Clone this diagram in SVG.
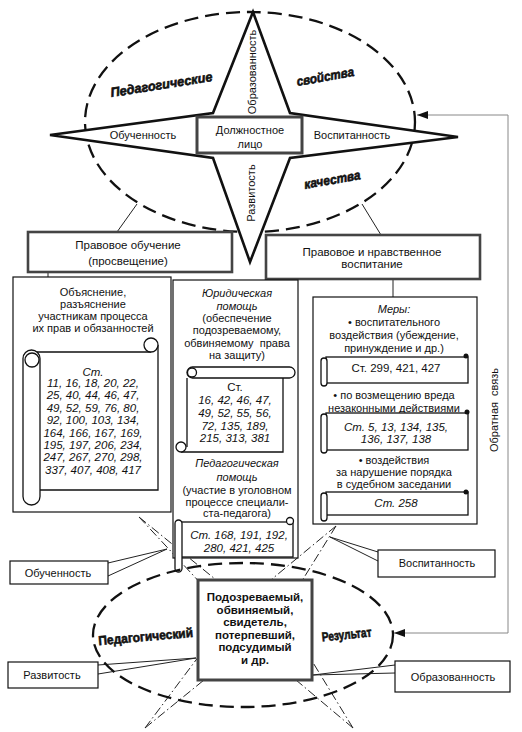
<svg xmlns="http://www.w3.org/2000/svg" width="522" height="732" viewBox="0 0 522 732">
<style>
text{font-family:"Liberation Sans",Arial,sans-serif;font-size:11px;fill:#111;text-anchor:middle;white-space:pre}
.i{font-style:italic}
.b{font-weight:bold;font-size:11.5px}
.bi{font-weight:bold;font-style:italic;font-size:13px;stroke:#111;stroke-width:0.6}
.bb{font-weight:bold;font-size:13px;stroke:#111;stroke-width:0.6}
.n{font-size:11.5px;font-style:italic}
.h{font-size:11.5px}
.box{fill:#fff;stroke:#111;stroke-width:1.2}
.hbox{fill:#fff;stroke:#444;stroke-width:2.6}
.sc{fill:#fff;stroke:#111;stroke-width:1.3}
.ln{fill:none;stroke:#222;stroke-width:1}
.dd{fill:none;stroke:#222;stroke-width:1;stroke-dasharray:9 3 1.5 3}
.fb{fill:none;stroke:#888;stroke-width:1}
.ell{fill:none;stroke:#111;stroke-width:2.3;stroke-dasharray:14 7}
</style>
<defs>
<marker id="ar" markerUnits="userSpaceOnUse" markerWidth="12" markerHeight="8" refX="11" refY="4" orient="auto"><path d="M0,0 L11,4 L0,8 z" fill="#111"/></marker>
</defs>
<rect width="522" height="732" fill="#fff"/>

<g id="qualities-ellipse">
<ellipse class="ell" cx="250" cy="122" rx="165" ry="110"/>
</g>

<g id="star">
<polygon points="253,12 290,113 458,137 290,158 250,262 213,158 50,135 213,113" fill="#fff" stroke="#111" stroke-width="2.6" stroke-linejoin="miter"/>
<text transform="translate(256,72) rotate(-90)">Образованность</text>
<text transform="translate(255,193) rotate(-90)">Развитость</text>
<text x="143" y="139">Обученность</text>
<text x="352" y="139">Воспитанность</text>
</g>

<g id="official">
<rect x="197" y="117" width="105" height="36" fill="#fff" stroke="#444" stroke-width="3"/>
<text x="250" y="134">Должностное</text>
<text x="250" y="148">лицо</text>
</g>

<g id="top-labels">
<text class="bi" transform="translate(162,89) rotate(-9)" textLength="103" lengthAdjust="spacingAndGlyphs">Педагогические</text>
<text class="bi" transform="translate(326,81) rotate(-10)" textLength="58" lengthAdjust="spacingAndGlyphs">свойства</text>
<text class="bi" transform="translate(333,184) rotate(-10)" textLength="57" lengthAdjust="spacingAndGlyphs">качества</text>
</g>

<g id="connectors">
<path class="ln" d="M137 204 L117 232"/>
<path class="ln" d="M362 204 L381 235"/>
<path class="ln" d="M48 272 V277"/>
<path class="ln" d="M393 279 V297"/>
<path class="fb" d="M508 374 V115 H417" marker-end="url(#ar)"/>
<path class="fb" d="M508 374 V633 H394" marker-end="url(#ar)"/>
<path class="ln" d="M108 563 L167 549 L108 576"/>
<path class="ln" d="M378 552 L330 537 L378 561"/>
<path class="ln" d="M98 665 L196 658 L98 674"/>
<path class="ln" d="M395 665 L313 675 L395 673"/>
<path class="dd" d="M139 517 L205 588 M139 517 L226 588"/>
<path class="dd" d="M336 526 L266 584 M336 526 L300 584"/>
<path class="dd" d="M145 728 L199 656 M145 728 L204 680"/>
<path class="dd" d="M353 728 L296 680 M353 728 L312 661"/>
</g>

<g id="legal-education">
<rect class="hbox" x="28" y="232" width="204" height="40"/>
<text class="h" x="128" y="249">Правовое обучение</text>
<text class="h" x="128" y="265">(просвещение)</text>
</g>

<g id="legal-moral-upbringing">
<rect class="hbox" x="266" y="235" width="214" height="44"/>
<text class="h" x="372" y="256">Правовое и нравственное</text>
<text class="h" x="372" y="268">воспитание</text>
</g>

<g id="explanation">
<rect class="box" x="13" y="277" width="158" height="235"/>
<text x="93" y="296">Объяснение,</text>
<text x="93" y="308">разъяснение</text>
<text x="93" y="320">участникам процесса</text>
<text x="93" y="332">их прав и обязанностей</text>
<path class="sc" d="M32 352 H151 M158 345 V490 H40"/>
<circle class="sc" cx="151" cy="345" r="7"/>
<rect class="sc" x="23" y="350" width="17" height="155" rx="8.5"/>
<circle class="sc" cx="32" cy="360" r="7"/>
<text class="n" x="93" y="376">Ст.</text>
<text class="n" x="93" y="387">11, 16, 18, 20, 22,</text>
<text class="n" x="93" y="399.4">25, 40, 44, 46, 47,</text>
<text class="n" x="93" y="411.8">49, 52, 59, 76, 80,</text>
<text class="n" x="93" y="424.2">92, 100, 103, 134,</text>
<text class="n" x="93" y="436.6">164, 166, 167, 169,</text>
<text class="n" x="93" y="449">195, 197, 206, 234,</text>
<text class="n" x="93" y="461.4">247, 267, 270, 298,</text>
<text class="n" x="93" y="473.8">337, 407, 408, 417</text>
</g>

<g id="legal-pedagogical-help">
<rect class="box" x="173" y="280" width="125" height="278"/>
<text class="i" x="237" y="297">Юридическая</text>
<text class="i" x="237" y="310">помощь</text>
<text x="237" y="322">(обеспечение</text>
<text x="237" y="334">подозреваемому,</text>
<text x="237" y="347">обвиняемому  права</text>
<text x="237" y="359">на защиту)</text>
<path class="sc" d="M187 378 V447 M181 452 H283 V378"/>
<circle class="sc" cx="181" cy="447" r="5"/>
<rect class="sc" x="187" y="367" width="108" height="11" rx="5.5"/>
<circle class="sc" cx="192" cy="372.5" r="4.5"/>
<text class="h" x="235" y="391">Ст.</text>
<text class="n" x="235" y="404">16, 42, 46, 47,</text>
<text class="n" x="235" y="417">49, 52, 55, 56,</text>
<text class="n" x="235" y="430">72, 135, 189,</text>
<text class="n" x="235" y="442">215, 313, 381</text>
<text class="i" x="237" y="467">Педагогическая</text>
<text class="i" x="237" y="481">помощь</text>
<text x="237" y="494">(участие в уголовном</text>
<text x="237" y="506">процессе специали-</text>
<text x="237" y="517">ста-педагога)</text>
<rect class="sc" x="181" y="522" width="112" height="35"/>
<circle class="sc" cx="290" cy="521" r="3.5"/>
<rect class="sc" x="175" y="520" width="7" height="52" rx="3.5"/>
<text class="n" x="239" y="539">Ст. 168, 191, 192,</text>
<text class="n" x="239" y="552">280, 421, 425</text>
</g>

<g id="measures">
<rect class="box" x="313" y="297" width="164" height="227"/>
<text class="i" x="394" y="313">Меры:</text>
<text x="394" y="326">• воспитательного</text>
<text x="394" y="339">воздействия (убеждение,</text>
<text x="394" y="352">принуждение и др.)</text>
<rect class="sc" x="326" y="357" width="142" height="26"/>
<rect class="sc" x="321" y="358" width="6" height="28" rx="3"/>
<circle cx="466" cy="356" r="2.5" fill="#111"/>
<text class="h" x="396" y="372">Ст. 299, 421, 427</text>
<text x="394" y="399">• по возмещению вреда</text>
<text x="394" y="412">незаконными действиями</text>
<rect class="sc" x="326" y="413" width="142" height="37"/>
<rect class="sc" x="321" y="414" width="6" height="39" rx="3"/>
<circle cx="467" cy="412" r="2.5" fill="#111"/>
<text class="n" x="396" y="431">Ст. 5, 13, 134, 135,</text>
<text class="n" x="396" y="443">136, 137, 138</text>
<text x="394" y="464">• воздействия</text>
<text x="394" y="476">за нарушение порядка</text>
<text x="394" y="488">в судебном заседании</text>
<rect class="sc" x="326" y="492" width="142" height="23"/>
<rect class="sc" x="321" y="493" width="6" height="28" rx="3"/>
<circle cx="466" cy="492" r="2.5" fill="#111"/>
<text class="n" x="396" y="507">Ст. 258</text>
</g>

<g id="feedback-label">
<text transform="translate(498,410) rotate(-90)" fill="#333">Обратная  связь</text>
</g>

<g id="result-ellipse">
<ellipse class="ell" cx="243" cy="635" rx="150" ry="72" stroke-width="2.5"/>
<text class="bb" transform="translate(146,641) rotate(-5)" textLength="95" lengthAdjust="spacingAndGlyphs">Педагогический</text>
<text class="bb" transform="translate(347,639) rotate(-6)" textLength="50" lengthAdjust="spacingAndGlyphs">Результат</text>
</g>

<g id="participants">
<rect x="198" y="580" width="114" height="100" fill="#fff" stroke="#444" stroke-width="3"/>
<text class="b" x="255" y="601">Подозреваемый,</text>
<text class="b" x="255" y="614">обвиняемый,</text>
<text class="b" x="255" y="626">свидетель,</text>
<text class="b" x="255" y="639">потерпевший,</text>
<text class="b" x="255" y="651">подсудимый</text>
<text class="b" x="255" y="664">и др.</text>
</g>

<g id="label-trained">
<rect class="box" x="10" y="561" width="98" height="23"/>
<text x="58" y="577">Обученность</text>
</g>
<g id="label-upbringing">
<rect class="box" x="378" y="550" width="117" height="27"/>
<text x="437" y="567">Воспитанность</text>
</g>
<g id="label-development">
<rect class="box" x="8" y="662" width="90" height="26"/>
<text x="52" y="679">Развитость</text>
</g>
<g id="label-education">
<rect class="box" x="395" y="661" width="115" height="31"/>
<text x="453" y="681" font-size="13">Образованность</text>
</g>
</svg>
